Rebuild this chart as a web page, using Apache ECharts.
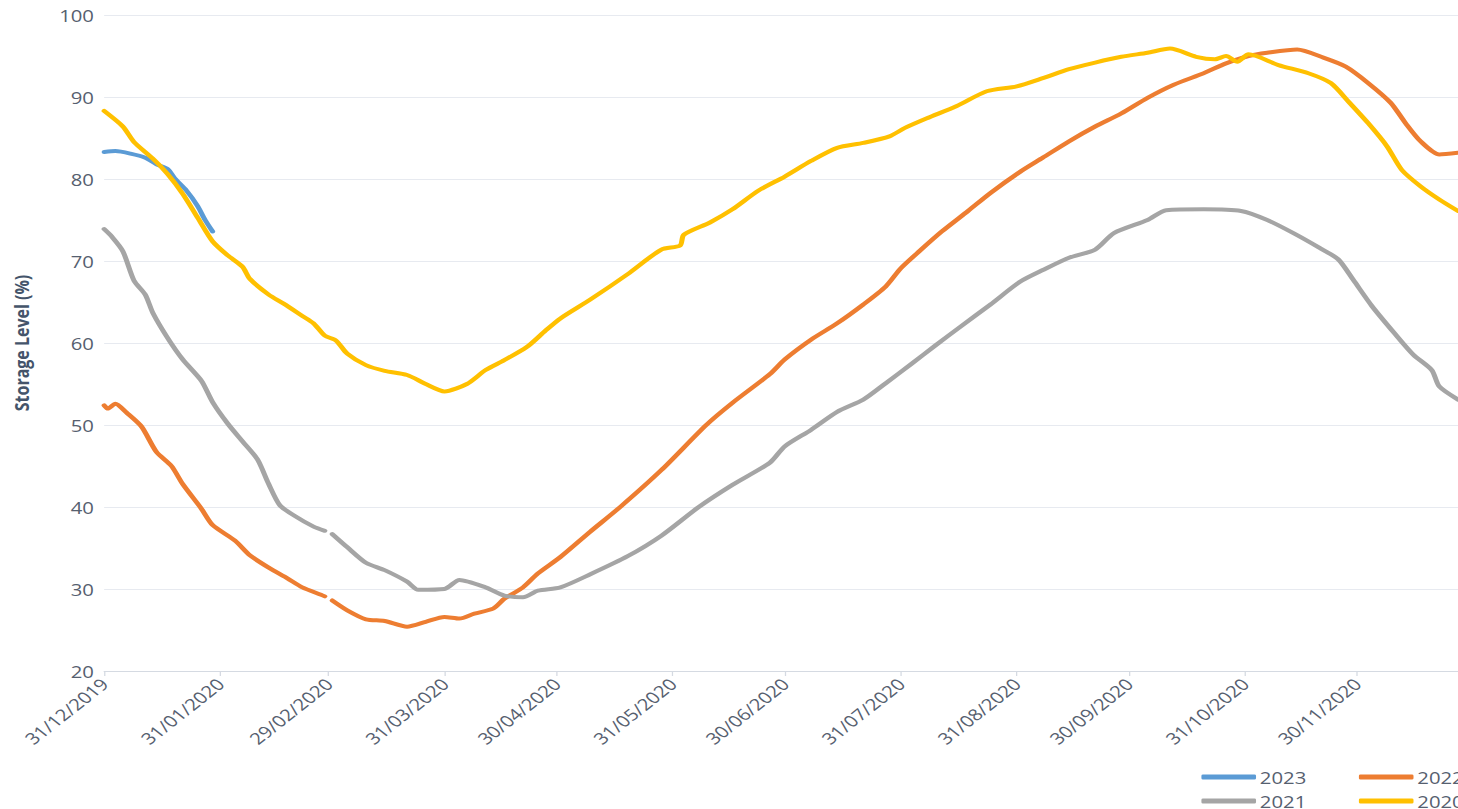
<!DOCTYPE html>
<html>
<head>
<meta charset="utf-8">
<script src="https://cdn.jsdelivr.net/npm/echarts@6/dist/echarts.min.js"></script>
<style>
    html, body {margin:0; padding:0; background:#fff; overflow:hidden;}
    #main {width:1148px; height:809px; transform:scaleX(1.27); transform-origin:0 0;}
</style>
</head>
<body>
<div id="main"></div>
<script>
var seriesNames = ['2023', '2022', '2021', '2020'];
var seriesColors = ['#5B9BD5', '#ED7D31', '#A5A5A5', '#FFC000'];
var yTicks = [20, 30, 40, 50, 60, 70, 80, 90, 100];

// day offsets counted from 31/12/2019, values in %
var days2023 = [0, 3, 7, 11, 14, 17, 19, 22, 25, 27, 29];
var vals2023 = [83.3, 83.4, 83.1, 82.6, 81.8, 81.2, 80.0, 78.6, 76.7, 75.0, 73.6];

var days2022 = [0, 1, 3, 6, 10, 14, 18, 21, 26, 29, 35, 39, 44, 49, 53, 58, 59, 60,
    61, 65, 70, 75, 81, 86, 91, 95, 99, 104, 107, 112, 116, 122, 130, 138, 149, 161, 168, 178,
    182, 189, 196, 203, 209, 213, 218, 224, 231, 237, 245, 251, 258, 265, 272, 279, 286, 294,
    300, 306, 311, 319, 326, 332, 338, 344, 348, 352, 357, 362];
var vals2022 = [52.4, 52.0, 52.6, 51.5, 49.8, 46.7, 45.0, 42.8, 39.8, 37.8, 35.9, 34.1, 32.6, 31.3, 30.2, 29.3, 29.1, null,
    28.6, 27.4, 26.3, 26.1, 25.4, 26.0, 26.6, 26.4, 27.0, 27.6, 28.8, 30.2, 31.9, 33.9, 37.0, 40.0, 44.5, 50.0, 52.7, 56.2,
    58.0, 60.4, 62.4, 64.7, 66.9, 69.1, 71.2, 73.6, 76.1, 78.3, 80.9, 82.6, 84.6, 86.4, 88.0, 89.9, 91.5, 92.9,
    94.1, 95.0, 95.4, 95.8, 94.8, 93.7, 91.7, 89.3, 86.8, 84.6, 83.0, 83.2];

var days2021 = [0, 2, 5, 8, 11, 13, 17, 21, 26, 29, 33, 37, 41, 44, 47, 51, 56, 59, 60,
    61, 65, 70, 75, 81, 84, 91, 95, 102, 107, 112, 116, 122, 130, 140, 149, 159, 168, 178,
    182, 189, 196, 203, 209, 216, 222, 229, 237, 245, 251, 258, 265, 270, 279, 284, 294,
    304, 311, 318, 325, 330, 334, 339, 345, 350, 355, 357, 362];
var vals2021 = [73.9, 73.0, 71.2, 67.6, 65.9, 63.7, 60.6, 58.0, 55.4, 52.8, 50.2, 48.0, 45.8, 42.8, 40.2, 38.9, 37.6, 37.1, null,
    36.7, 35.1, 33.2, 32.3, 30.9, 29.9, 30.0, 31.1, 30.2, 29.2, 29.0, 29.8, 30.2, 31.8, 34.0, 36.5, 40.0, 42.7, 45.4,
    47.4, 49.4, 51.6, 53.1, 55.1, 57.5, 59.6, 62.0, 64.7, 67.5, 68.9, 70.4, 71.4, 73.4, 75.0, 76.2, 76.3,
    76.1, 75.0, 73.4, 71.6, 70.2, 67.7, 64.5, 61.2, 58.6, 56.7, 54.7, 53.1];

var days2020 = [0, 5, 8, 13, 17, 21, 25, 29, 33, 37, 39, 44, 48, 53, 56, 59, 62, 65, 70, 75,
    81, 86, 91, 97, 102, 107, 113, 118, 122, 130, 140, 149, 154, 155, 162, 168, 175, 182, 189, 196,
    203, 210, 214, 220, 228, 236, 244, 251, 258, 265, 272, 279, 285, 292, 297, 300, 303, 306, 314, 322,
    328, 333, 338, 343, 347, 352, 357, 362];
var vals2020 = [88.3, 86.4, 84.5, 82.5, 80.6, 78.2, 75.3, 72.4, 70.7, 69.3, 67.8, 65.9, 64.8, 63.3, 62.4, 60.9, 60.3, 58.7, 57.3, 56.6,
    56.1, 55.0, 54.1, 55.0, 56.7, 57.9, 59.5, 61.5, 63.0, 65.3, 68.4, 71.4, 71.9, 73.2, 74.7, 76.3, 78.6, 80.3, 82.2, 83.8,
    84.4, 85.2, 86.2, 87.4, 88.9, 90.7, 91.3, 92.3, 93.4, 94.2, 94.9, 95.4, 95.9, 94.9, 94.6, 95.0, 94.3, 95.2, 93.9, 92.9,
    91.7, 89.3, 86.8, 84.0, 81.1, 79.1, 77.5, 76.1];

var dayCount = 363;

function pad(n) {
    return n < 10 ? '0' + n : '' + n;
}

var dates = [];
var monthEnd = [];
var start = Date.UTC(2019, 11, 31);
for (var i = 0; i < dayCount; i++) {
    var d = new Date(start + i * 86400000);
    var next = new Date(start + (i + 1) * 86400000);
    dates.push(pad(d.getUTCDate()) + '/' + pad(d.getUTCMonth() + 1) + '/' + d.getUTCFullYear());
    monthEnd.push(next.getUTCDate() === 1);
}

function pairs(days, vals) {
    return days.map(function (day, k) {
        return [dates[day], vals[k] == null ? '-' : vals[k]];
    });
}

function showAt(index) {
    return monthEnd[index];
}

var allData = [pairs(days2023, vals2023), pairs(days2022, vals2022), pairs(days2021, vals2021), pairs(days2020, vals2020)];

var labelColor = '#56606F';

var series = seriesNames.map(function (name, k) {
    return {
        name: name,
        type: 'line',
        data: allData[k],
        showSymbol: false,
        symbol: 'none',
        smooth: 0.25,
        connectNulls: false,
        lineStyle: {color: seriesColors[k], width: 4, cap: 'round', join: 'round'},
        itemStyle: {color: seriesColors[k]}
    };
});

// one legend per item so the right column can run past the edge like the original
function legendItem(name, left, top) {
    return {
        orient: 'horizontal',
        left: left,
        top: top,
        icon: 'roundRect',
        itemWidth: 43,
        itemHeight: 5,
        textStyle: {fontFamily: 'Open Sans', fontSize: 16, color: labelColor, padding: [0, 0, 0, -2]},
        selectedMode: false,
        data: [name]
    };
}

var myChart = echarts.init(document.getElementById('main'), null, {renderer: 'svg'});
var option = {
    animation: false,
    color: seriesColors,
    grid: {left: 81, right: 0, top: 15, bottom: 138, containLabel: false},
    legend: [
        legendItem('2023', 941, 764),
        legendItem('2022', 1065, 764),
        legendItem('2021', 941, 788),
        legendItem('2020', 1065, 788)
    ],
    xAxis: {
        type: 'category',
        data: dates,
        boundaryGap: false,
        axisLine: {show: true, lineStyle: {color: '#D5DAE2', width: 1}},
        axisTick: {show: true, interval: showAt, length: 5, lineStyle: {color: '#D5DAE2'}},
        axisLabel: {
            interval: showAt,
            rotate: 45,
            margin: 10,
            fontFamily: 'Open Sans',
            fontSize: 16,
            color: labelColor
        },
        splitLine: {show: false}
    },
    yAxis: {
        type: 'value',
        min: yTicks[0],
        max: yTicks[yTicks.length - 1],
        interval: 10,
        name: 'Storage Level (%)',
        nameLocation: 'middle',
        nameGap: 58,
        nameTextStyle: {fontFamily: 'Open Sans', fontSize: 16, fontWeight: 'bold', color: '#44546A'},
        axisLine: {show: false},
        axisTick: {show: false},
        axisLabel: {margin: 8, fontFamily: 'Open Sans', fontSize: 16, color: labelColor},
        splitLine: {show: true, lineStyle: {color: '#E7EAF0', width: 1}}
    },
    series: series
};
myChart.setOption(option);
</script>
</body>
</html>
